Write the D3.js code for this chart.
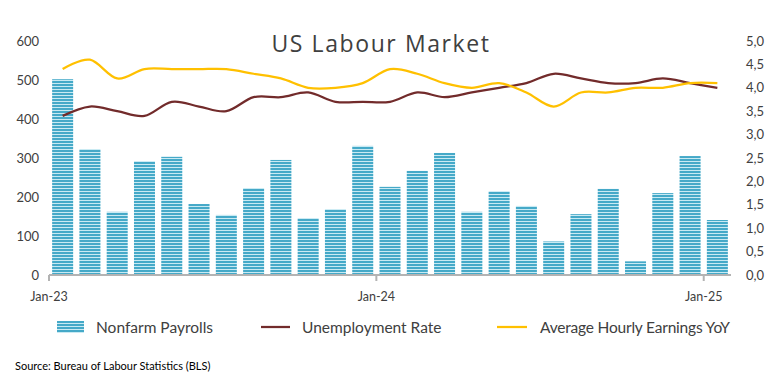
<!DOCTYPE html>
<html>
<head>
<meta charset="utf-8">
<script src="https://cdn.jsdelivr.net/npm/d3@7"></script>
<style>
  body { margin: 0; background: #fff; }
  svg { display: block; font-family: Lato, "Open Sans", sans-serif; }
</style>
</head>
<body>
<div id="chart"></div>
<script>
// ---- data -------------------------------------------------------------
var months = ["Jan-23","Feb-23","Mar-23","Apr-23","May-23","Jun-23","Jul-23","Aug-23","Sep-23","Oct-23","Nov-23","Dec-23",
              "Jan-24","Feb-24","Mar-24","Apr-24","May-24","Jun-24","Jul-24","Aug-24","Sep-24","Oct-24","Nov-24","Dec-24","Jan-25"];
var payrolls = [502, 323, 162, 292, 303, 182, 154, 223, 295, 146, 169, 331,
                226, 267, 313, 162, 215, 177, 86, 156, 221, 35, 210, 305, 141];
var unemployment = [3.4, 3.6, 3.5, 3.4, 3.7, 3.6, 3.5, 3.8, 3.8, 3.9, 3.7, 3.7,
                    3.7, 3.9, 3.8, 3.9, 4.0, 4.1, 4.3, 4.2, 4.1, 4.1, 4.2, 4.1, 4.0];
var earnings = [4.4, 4.6, 4.2, 4.4, 4.4, 4.4, 4.4, 4.3, 4.2, 4.0, 4.0, 4.1,
                4.4, 4.3, 4.1, 4.0, 4.1, 3.9, 3.6, 3.9, 3.9, 4.0, 4.0, 4.1, 4.1];
var shownTicks = ["Jan-23", "Jan-24", "Jan-25"];
var leftTicks = [0, 100, 200, 300, 400, 500, 600];
var rightTicks = [0, 0.5, 1, 1.5, 2, 2.5, 3, 3.5, 4, 4.5, 5];

// ---- setup -------------------------------------------------------------
var W = 782, H = 386;
var svg = d3.select("#chart").append("svg").attr("width", W).attr("height", H);

var textCol = "#404040";
var redCol = "#722b2b";
var yellowCol = "#ffc000";

var x = d3.scaleBand().domain(months).range([49, 731]).paddingInner(0.23).paddingOuter(0.115);
var yL = d3.scaleLinear().domain([0, 600]).range([275, 41]);
var yR = d3.scaleLinear().domain([0, 5]).range([275, 41]);
var step = x.step();

// striped fill for the bars
var defs = svg.append("defs");
var pat = defs.append("pattern")
    .attr("id", "stripes")
    .attr("patternUnits", "userSpaceOnUse")
    .attr("width", 6).attr("height", 3);
pat.append("rect").attr("width", 6).attr("height", 3).attr("fill", "#c9eaf3");
pat.append("rect").attr("width", 6).attr("height", 2).attr("fill", "#45a9c8");

// title
svg.append("text")
    .attr("x", 381).attr("y", 52)
    .attr("text-anchor", "middle")
    .style("font-family", "'Open Sans', sans-serif")
    .style("font-size", "23px")
    .style("letter-spacing", "1.6px")
    .attr("fill", textCol)
    .text("US Labour Market");

// left axis labels
svg.append("g").selectAll("text")
    .data(leftTicks).enter().append("text")
    .attr("x", 39).attr("y", function(d) { return yL(d); })
    .attr("dy", "0.35em")
    .attr("text-anchor", "end")
    .style("font-size", "13px")
    .attr("fill", textCol)
    .text(function(d) { return d; });

// right axis labels
svg.append("g").selectAll("text")
    .data(rightTicks).enter().append("text")
    .attr("x", 746).attr("y", function(d) { return yR(d); })
    .attr("dy", "0.35em")
    .attr("text-anchor", "start")
    .style("font-size", "13px")
    .attr("fill", textCol)
    .text(function(d) { return d3.format(".1f")(d).replace(".", ","); });

// bars
svg.append("g").selectAll("rect")
    .data(payrolls).enter().append("rect")
    .attr("x", function(d, i) { return x(months[i]); })
    .attr("width", x.bandwidth())
    .attr("y", function(d) { return yL(d); })
    .attr("height", function(d) { return yL(0) - yL(d); })
    .attr("fill", "url(#stripes)");

// x axis line and ticks
var axisG = svg.append("g").attr("transform", "translate(0,275)");
axisG.append("line")
    .attr("x1", 49).attr("x2", 731)
    .attr("stroke", "#b3b3b3").attr("stroke-width", 2);
axisG.selectAll(".tk")
    .data(shownTicks).enter().append("line")
    .attr("x1", function(d) { return x(d) - step * 0.115; })
    .attr("x2", function(d) { return x(d) - step * 0.115; })
    .attr("y1", 0).attr("y2", 6)
    .attr("stroke", "#b3b3b3").attr("stroke-width", 2);
axisG.selectAll(".lb")
    .data(shownTicks).enter().append("text")
    .attr("x", function(d) { return x(d) - step * 0.115; })
    .attr("y", 26)
    .attr("text-anchor", "middle")
    .style("font-size", "12.5px")
    .attr("fill", textCol)
    .text(function(d) { return d; });

// lines
var cx = function(d, i) { return x(months[i]) + x.bandwidth() / 2; };
var line = d3.line().x(cx).y(function(d) { return yR(d); }).curve(d3.curveCardinal.tension(0));

svg.append("path").datum(unemployment)
    .attr("d", line)
    .attr("fill", "none").attr("stroke", redCol).attr("stroke-width", 2.25);
svg.append("path").datum(earnings)
    .attr("d", line)
    .attr("fill", "none").attr("stroke", yellowCol).attr("stroke-width", 2.25);

// legend
var lg = svg.append("g").style("font-size", "15.5px").attr("fill", textCol);
lg.append("rect").attr("x", 57).attr("y", 321).attr("width", 27).attr("height", 12).attr("fill", "url(#stripes)");
lg.append("text").attr("x", 96).attr("y", 333).text("Nonfarm Payrolls");
lg.append("line").attr("x1", 261).attr("x2", 290).attr("y1", 327).attr("y2", 327)
    .attr("stroke", redCol).attr("stroke-width", 2.25);
lg.append("text").attr("x", 302).attr("y", 333).text("Unemployment Rate");
lg.append("line").attr("x1", 497).attr("x2", 527).attr("y1", 327).attr("y2", 327)
    .attr("stroke", yellowCol).attr("stroke-width", 2.25);
lg.append("text").attr("x", 540).attr("y", 333).style("letter-spacing", "-0.2px").text("Average Hourly Earnings YoY");

// source
svg.append("text")
    .attr("x", 15).attr("y", 370)
    .style("font-size", "11px")
    .attr("fill", "#000")
    .text("Source: Bureau of Labour Statistics (BLS)");
</script>
</body>
</html>
